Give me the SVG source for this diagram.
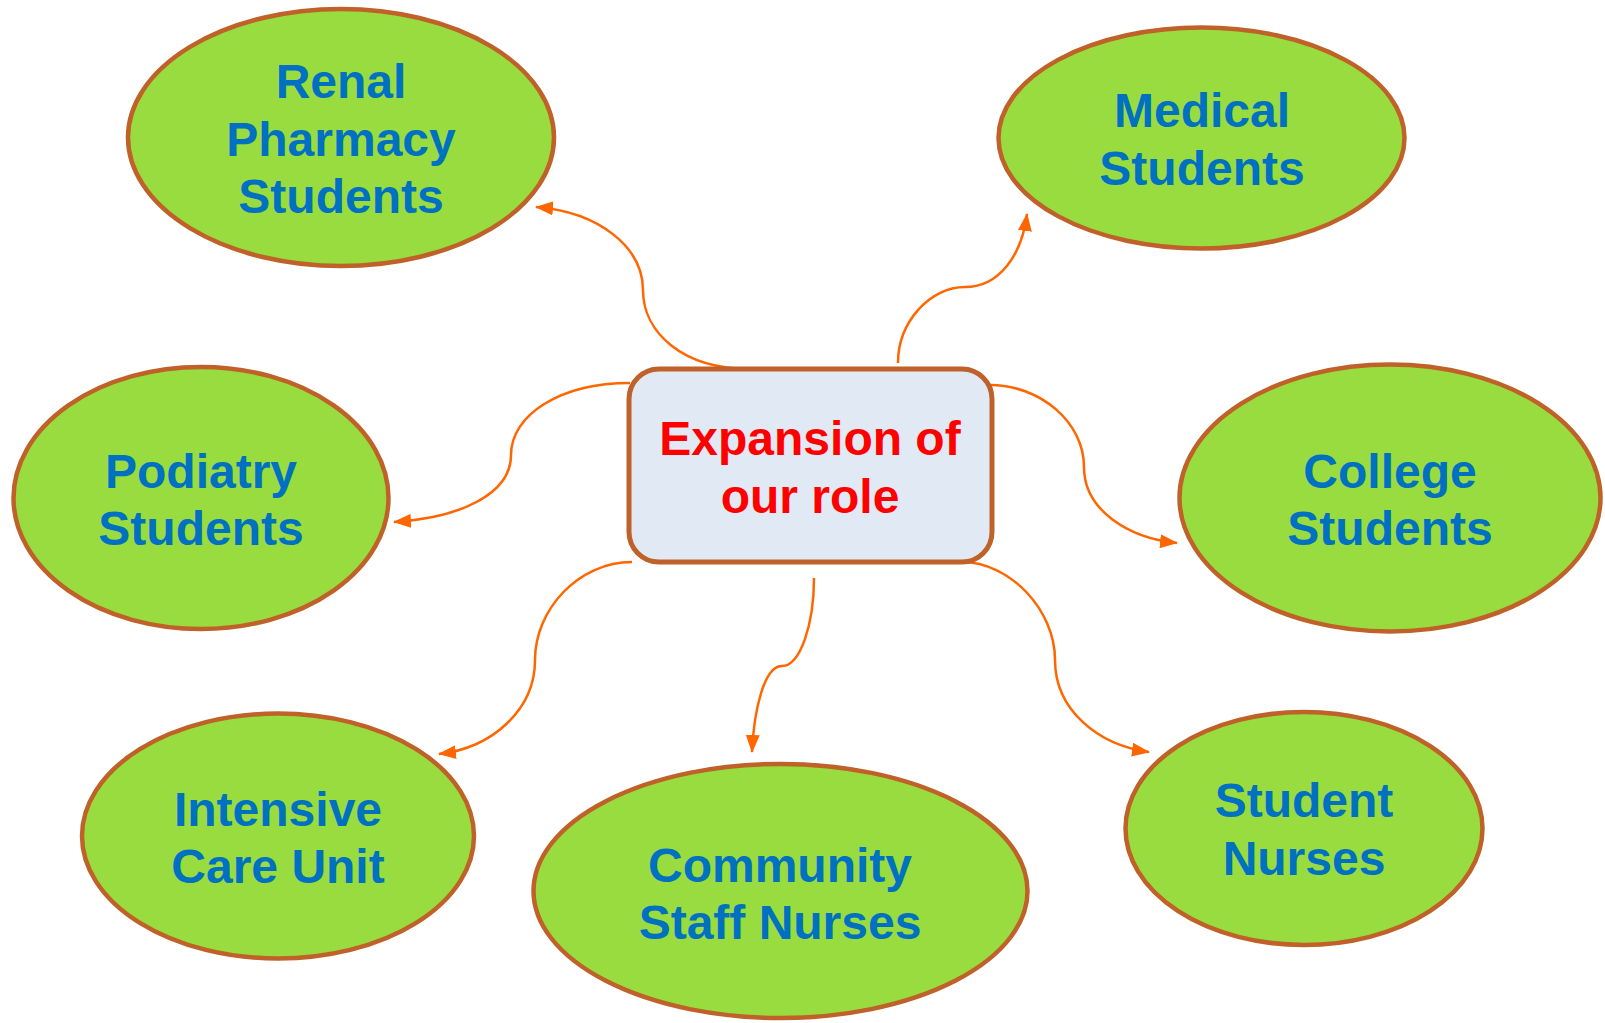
<svg xmlns="http://www.w3.org/2000/svg" width="1605" height="1023" viewBox="0 0 1605 1023">
  <style>
    .node { fill: #99DC3F; stroke: #BF6128; stroke-width: 4.5; }
    .hub { fill: #E1E9F5; stroke: #BF6128; stroke-width: 5; }
    .lbl { font-family: "Liberation Sans", Arial, sans-serif; font-weight: bold; font-size: 48px; fill: #0070C0; text-anchor: middle; }
    .hub-lbl { fill: #FF0000; }
    .link { fill: none; stroke: #FF6600; stroke-width: 2.5; marker-end: url(#arrow); }
  </style>
  <defs>
    <marker id="arrow" markerUnits="userSpaceOnUse" viewBox="0 0 18 14" markerWidth="18" markerHeight="14" refX="17" refY="7" orient="auto">
      <path d="M0,0 L18,7 L0,14 z" fill="#FF6600"/>
    </marker>
  </defs>

  <rect width="1605" height="1023" fill="#FFFFFF"/>

  <!-- connectors from the central box to each group -->
  <g id="connectors">
    <path class="link" d="M750,369 C682,369 643,332 643,290 C643,248 600,212 536,207"/>
    <path class="link" d="M898,363 C898,322 930,287 965,287 C1000,287 1022,254 1027,214"/>
    <path class="link" d="M630,383 C560,383 511,415 511,455 C511,495 458,518 394,522"/>
    <path class="link" d="M632,562 C578,562 535,610 535,660 C535,710 492,748 439,754"/>
    <path class="link" d="M814,578 C814,625 800,666 782,666 C764,666 754,710 752,752"/>
    <path class="link" d="M990,385 C1040,385 1084,422 1084,467 C1084,510 1128,538 1177,543"/>
    <path class="link" d="M962,562 C1010,562 1055,610 1055,660 C1055,710 1098,745 1149,752"/>
  </g>

  <g id="hub">
    <rect class="hub" x="629" y="369" width="363" height="193" rx="30" ry="30"/>
    <text class="lbl hub-lbl" x="810" y="455">Expansion of</text>
    <text class="lbl hub-lbl" x="810" y="513">our role</text>
  </g>

  <g id="renal-pharmacy">
    <ellipse class="node" cx="341" cy="137.5" rx="213" ry="128.5"/>
    <text class="lbl" x="341" y="98">Renal</text>
    <text class="lbl" x="341" y="156">Pharmacy</text>
    <text class="lbl" x="341" y="213">Students</text>
  </g>

  <g id="medical-students">
    <ellipse class="node" cx="1201.5" cy="138" rx="203" ry="110.5"/>
    <text class="lbl" x="1202" y="127">Medical</text>
    <text class="lbl" x="1202" y="185">Students</text>
  </g>

  <g id="podiatry-students">
    <ellipse class="node" cx="201" cy="498" rx="187.5" ry="131"/>
    <text class="lbl" x="201" y="488">Podiatry</text>
    <text class="lbl" x="201" y="545">Students</text>
  </g>

  <g id="college-students">
    <ellipse class="node" cx="1390" cy="498" rx="210.5" ry="133.5"/>
    <text class="lbl" x="1390" y="488">College</text>
    <text class="lbl" x="1390" y="545">Students</text>
  </g>

  <g id="intensive-care-unit">
    <ellipse class="node" cx="278" cy="836" rx="196" ry="122.5"/>
    <text class="lbl" x="278" y="826">Intensive</text>
    <text class="lbl" x="278" y="883">Care Unit</text>
  </g>

  <g id="community-staff-nurses">
    <ellipse class="node" cx="780.5" cy="891" rx="247" ry="127"/>
    <text class="lbl" x="780" y="882">Community</text>
    <text class="lbl" x="780" y="939">Staff Nurses</text>
  </g>

  <g id="student-nurses">
    <ellipse class="node" cx="1304" cy="828.5" rx="178.5" ry="116.5"/>
    <text class="lbl" x="1304" y="817">Student</text>
    <text class="lbl" x="1304" y="875">Nurses</text>
  </g>
</svg>
